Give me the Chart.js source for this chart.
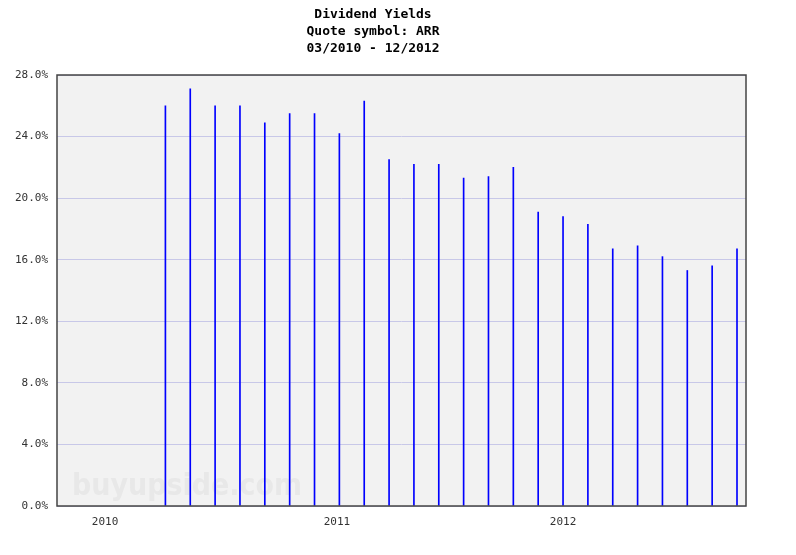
<!DOCTYPE html>
<html>
<head>
<meta charset="utf-8">
<script src="https://cdn.jsdelivr.net/npm/chart.js@4/dist/chart.umd.min.js"></script>
<style>
  html, body { margin: 0; padding: 0; background: #fff; }
  canvas { display: block; }
</style>
</head>
<body>
<canvas id="yieldChart" width="796" height="555"></canvas>
<script>
// slot index of each dividend bar along the time axis
const barSlots = [4, 5, 6, 7, 8, 9, 10, 11, 12, 13, 14, 15, 16, 17, 18, 19, 20, 21, 22, 23, 24, 25, 26, 27];
// dividend yield in percent
const yields = [26.0, 27.1, 26.0, 26.0, 24.9, 25.5, 25.5, 24.2, 26.3, 22.5, 22.2, 22.2,
                21.3, 21.4, 22.0, 19.1, 18.8, 18.3, 16.7, 16.9, 16.2, 15.3, 15.6, 16.7];
const yearLabels = ['2010', '2011', '2012'];
const yearSlots = [1.57, 10.9, 20.0];
const titleLines = ['Dividend Yields', 'Quote symbol: ARR', '03/2010 - 12/2012'];

const plotFrame = {
    id: 'plotFrame',
    beforeDraw(chart) {
        const { ctx, chartArea: a } = chart;
        ctx.save();
        ctx.fillStyle = '#f2f2f2';
        ctx.fillRect(a.left, a.top, a.right - a.left, a.bottom - a.top);
        // watermark
        ctx.font = 'bold 30px "DejaVu Sans"';
        const w = ctx.measureText('buyupside.com').width;
        ctx.fillStyle = '#e8e8e8';
        ctx.textBaseline = 'alphabetic';
        ctx.translate(72, 495);
        ctx.scale(230 / w, 1);
        ctx.fillText('buyupside.com', 0, 0);
        ctx.restore();
    },
    afterDraw(chart) {
        const { ctx, chartArea: a } = chart;
        ctx.save();
        ctx.strokeStyle = '#444';
        ctx.lineWidth = 1.5;
        ctx.strokeRect(a.left, a.top, a.right - a.left, a.bottom - a.top);
        ctx.restore();
    }
};

const ctx = document.getElementById('yieldChart').getContext('2d');
new Chart(ctx, {
    type: 'bar',
    data: {
        datasets: [{
            label: 'Dividend Yield',
            data: barSlots.map((s, i) => ({ x: s, y: yields[i] })),
            backgroundColor: '#0000ff',
            borderWidth: 0,
            barThickness: 1
        }]
    },
    options: {
        responsive: false,
        animation: false,
        layout: { padding: { left: 0, right: 50, top: 0, bottom: 0 } },
        plugins: {
            legend: { display: false },
            tooltip: { enabled: false },
            title: {
                display: true,
                text: titleLines,
                color: '#000',
                font: { family: '"DejaVu Sans Mono"', size: 13, weight: 'bold', lineHeight: 17 / 13 },
                padding: { top: 6, bottom: 18 }
            }
        },
        scales: {
            x: {
                type: 'linear',
                offset: false,
                min: -0.362,
                max: 27.362,
                grid: { display: false, offset: false, drawTicks: false },
                border: { display: false },
                afterBuildTicks(scale) {
                    scale.ticks = yearSlots.map(v => ({ value: v }));
                },
                afterFit(scale) { scale.height = 49; },
                ticks: {
                    autoSkip: false,
                    maxRotation: 0,
                    padding: 10,
                    color: '#333',
                    font: { family: '"DejaVu Sans Mono"', size: 11 },
                    callback: (v, i) => yearLabels[i]
                }
            },
            y: {
                min: 0,
                max: 28,
                grid: { color: '#c8c8e8', drawTicks: false },
                border: { display: false },
                afterFit(scale) { scale.width = 57; },
                ticks: {
                    stepSize: 4,
                    padding: 9,
                    color: '#333',
                    font: { family: '"DejaVu Sans Mono"', size: 11 },
                    callback: v => v.toFixed(1) + '%'
                }
            }
        }
    },
    plugins: [plotFrame]
});
</script>
</body>
</html>
